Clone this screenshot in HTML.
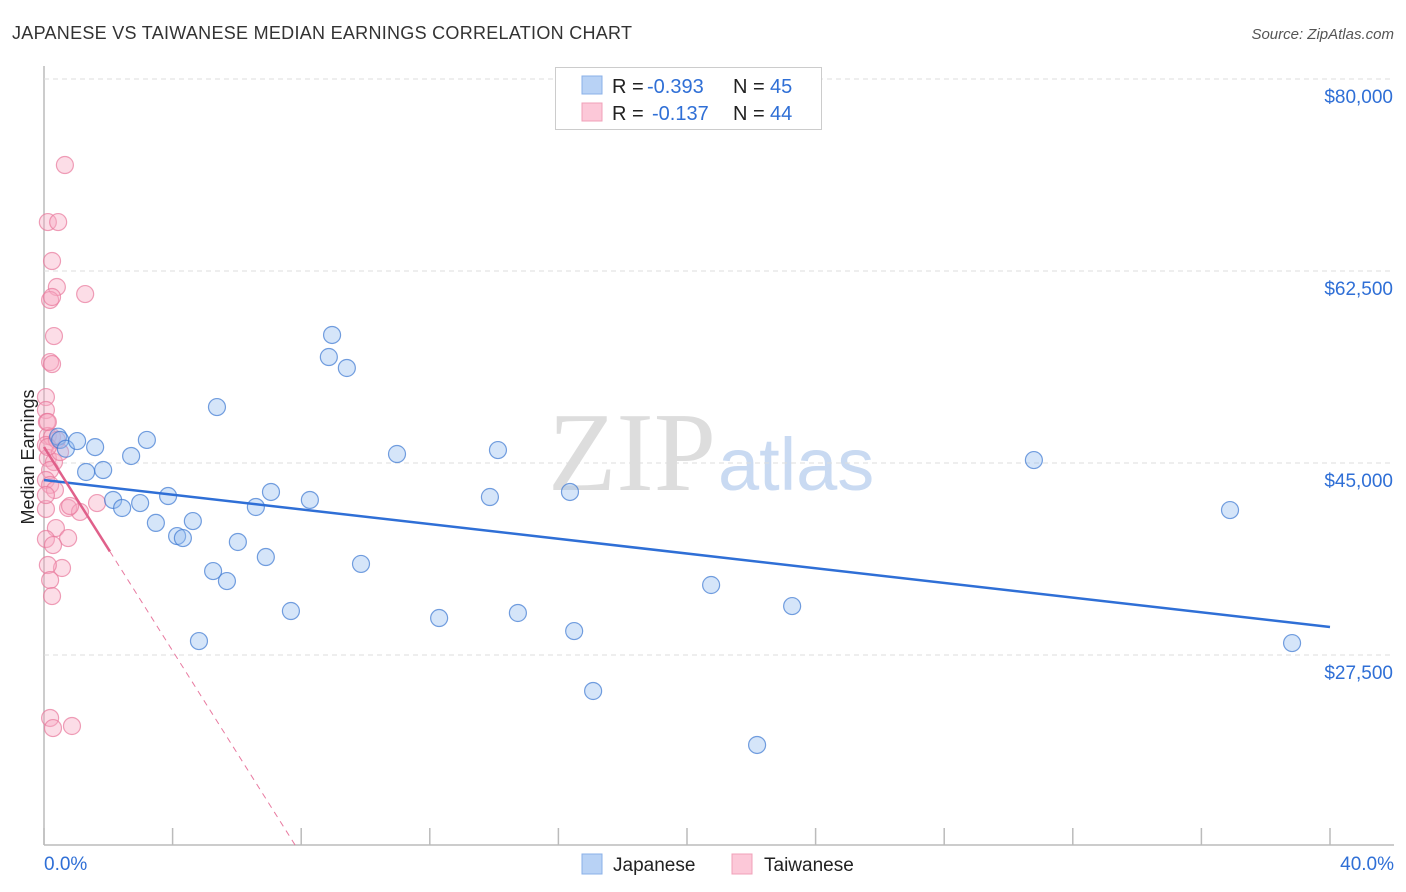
<!DOCTYPE html>
<html><head><meta charset="utf-8"><style>
body{margin:0;background:#fff;font-family:"Liberation Sans",sans-serif;}
#wrap{position:relative;width:1406px;height:892px;overflow:hidden;}
</style></head><body>
<div id="wrap">
<svg id="svg" width="1406" height="892" xmlns="http://www.w3.org/2000/svg">
<text x="12" y="39" font-size="18" fill="#333" textLength="620">JAPANESE VS TAIWANESE MEDIAN EARNINGS CORRELATION CHART</text>
<text x="1394" y="39" font-size="15" fill="#555" font-style="italic" text-anchor="end">Source: ZipAtlas.com</text>
<text x="34" y="457" font-size="18" fill="#222" text-anchor="middle" transform="rotate(-90 34 457)">Median Earnings</text>
<text x="716" y="490" font-size="112" fill="#ddd" text-anchor="end" font-family="Liberation Serif,serif">ZIP</text>
<text x="718" y="490" font-size="74" fill="#c9daf2">atlas</text>
<g id="grid"></g><g id="marks"></g>
<g>
<rect x="555.5" y="67.5" width="266" height="62" fill="#fff" stroke="#ccc"/>
<rect x="582" y="76" width="20" height="18" fill="#b8d2f5" stroke="#8ab0e8"/>
<rect x="582" y="103" width="20" height="18" fill="#fcc8d8" stroke="#f0a0b8"/>
<text x="612" y="93" font-size="20" fill="#222">R = <tspan x="647" fill="#2f6fd6">-0.393</tspan><tspan x="733">N = </tspan><tspan x="770" fill="#2f6fd6">45</tspan></text>
<text x="612" y="120" font-size="20" fill="#222">R = <tspan x="652" fill="#2f6fd6">-0.137</tspan><tspan x="733">N = </tspan><tspan x="770" fill="#2f6fd6">44</tspan></text>
</g>
<g>
<rect x="582" y="854" width="20" height="20" fill="#b8d2f5" stroke="#8ab0e8"/>
<text x="613" y="871" font-size="19" fill="#222">Japanese</text>
<rect x="732" y="854" width="20" height="20" fill="#fcc8d8" stroke="#f0a0b8"/>
<text x="764" y="871" font-size="19" fill="#222">Taiwanese</text>
</g>
</svg>
</div>
<script>
const xTickLabels=["0.0%","40.0%"];
const yTicks=[27500,45000,62500,80000];
const yTickLabels=["$27,500","$45,000","$62,500","$80,000"];
const japX=[0.44,0.5,0.68,1.03,1.59,1.84,1.31,2.71,3.2,2.15,2.43,2.99,3.86,3.48,4.14,4.32,4.63,5.38,5.26,5.69,4.82,6.03,6.59,6.9,7.06,7.68,8.27,8.96,8.86,9.42,9.86,10.98,12.29,14.12,13.87,14.74,16.36,16.49,17.08,20.75,22.18,23.27,30.79,36.89,38.82];
const japY=[47400,47100,46300,47000,46450,44360,44180,45640,47100,41630,40900,41350,41990,39540,38340,38160,39710,50100,35150,34240,28770,37800,40990,36430,42360,31510,41630,56670,54660,53660,35800,45820,30870,46180,41900,31330,42360,29680,24220,33880,19300,31960,45270,40710,28590];
const taiX=[0.65,0.12,0.44,0.25,0.4,1.28,0.19,0.25,0.31,0.19,0.25,0.06,0.06,0.09,0.12,0.25,0.06,0.12,0.31,0.19,0.06,0.19,0.34,0.06,0.75,1.12,1.65,0.81,0.37,0.06,0.75,0.28,0.56,0.12,0.19,0.25,0.19,0.28,0.87,0.4,0.5,0.12,0.06,0.12];
const taiY=[72160,66960,66960,63410,61040,60400,59860,60130,56570,54200,54020,51010,49830,48740,47460,47370,46640,45460,45090,44360,43450,43000,42540,40810,40900,40540,41350,41080,39070,38070,38160,37520,35430,35700,34330,32870,21760,20840,21030,47100,46000,46460,42080,48740];
const japTrend=[43450,-335];
const taiTrend=[46460,-4645];
const taiSolidEnd=2.05;
const NS="http://www.w3.org/2000/svg";
const X0=44,X1=1330,Y80=79,PXD=192/17500,BOT=845;
const sx=v=>X0+(X1-X0)*v/40;
const sy=v=>Y80+(80000-v)*PXD;
function mk(t,a,p){const e=document.createElementNS(NS,t);for(const k in a)e.setAttribute(k,a[k]);p.appendChild(e);return e;}
const grid=document.getElementById('grid'),marks=document.getElementById('marks');
mk('line',{x1:44,y1:66,x2:44,y2:BOT,stroke:'#bbb','stroke-width':1.5},grid);
mk('line',{x1:44,y1:BOT,x2:1394,y2:BOT,stroke:'#bbb','stroke-width':1.5},grid);
for(let i=0;i<=10;i++){const x=sx(i*4);const l=mk('line',{x1:x,y1:BOT,x2:x,y2:828,stroke:'#bbb','stroke-width':1.5},grid);

}
yTicks.forEach((v,i)=>{const y=sy(v);const l=mk('line',{x1:44,y1:y,x2:1394,y2:y,stroke:'#ddd','stroke-dasharray':'5,4'},grid);


const t=mk('text',{x:1393,y:y+24,'font-size':19,fill:'#2f6fd6','text-anchor':'end'},grid);t.textContent=yTickLabels[i];

});
[[0,'start',44],[40,'end',1394]].forEach((d,i)=>{const t=mk('text',{x:d[2],y:870,'font-size':19,fill:'#2f6fd6','text-anchor':d[1]},grid);t.textContent=xTickLabels[i];

});
taiX.forEach((x,i)=>{const c=mk('circle',{cx:sx(x),cy:sy(taiY[i]),r:8.5,fill:'rgba(248,170,195,0.4)',stroke:'rgba(232,120,155,0.7)','stroke-width':1.2},marks);

});
japX.forEach((x,i)=>{const c=mk('circle',{cx:sx(x),cy:sy(japY[i]),r:8.5,fill:'rgba(150,190,240,0.4)',stroke:'rgba(60,120,210,0.7)','stroke-width':1.2},marks);

});
const jl=mk('line',{x1:sx(0),y1:sy(japTrend[0]),x2:sx(40),y2:sy(japTrend[0]+japTrend[1]*40),stroke:'#2f6fd6','stroke-width':2.5},marks);


const tEnd=(taiTrend[0]-(80000-(BOT-Y80)/PXD))/(-taiTrend[1]);
const td=mk('line',{x1:sx(taiSolidEnd),y1:sy(taiTrend[0]+taiTrend[1]*taiSolidEnd),x2:sx(tEnd),y2:BOT,stroke:'#e87aa0','stroke-width':1,'stroke-dasharray':'6,5'},marks);


const ts=mk('line',{x1:sx(0),y1:sy(taiTrend[0]),x2:sx(taiSolidEnd),y2:sy(taiTrend[0]+taiTrend[1]*taiSolidEnd),stroke:'#e0608a','stroke-width':2.5},marks);


</script>
</body></html>
